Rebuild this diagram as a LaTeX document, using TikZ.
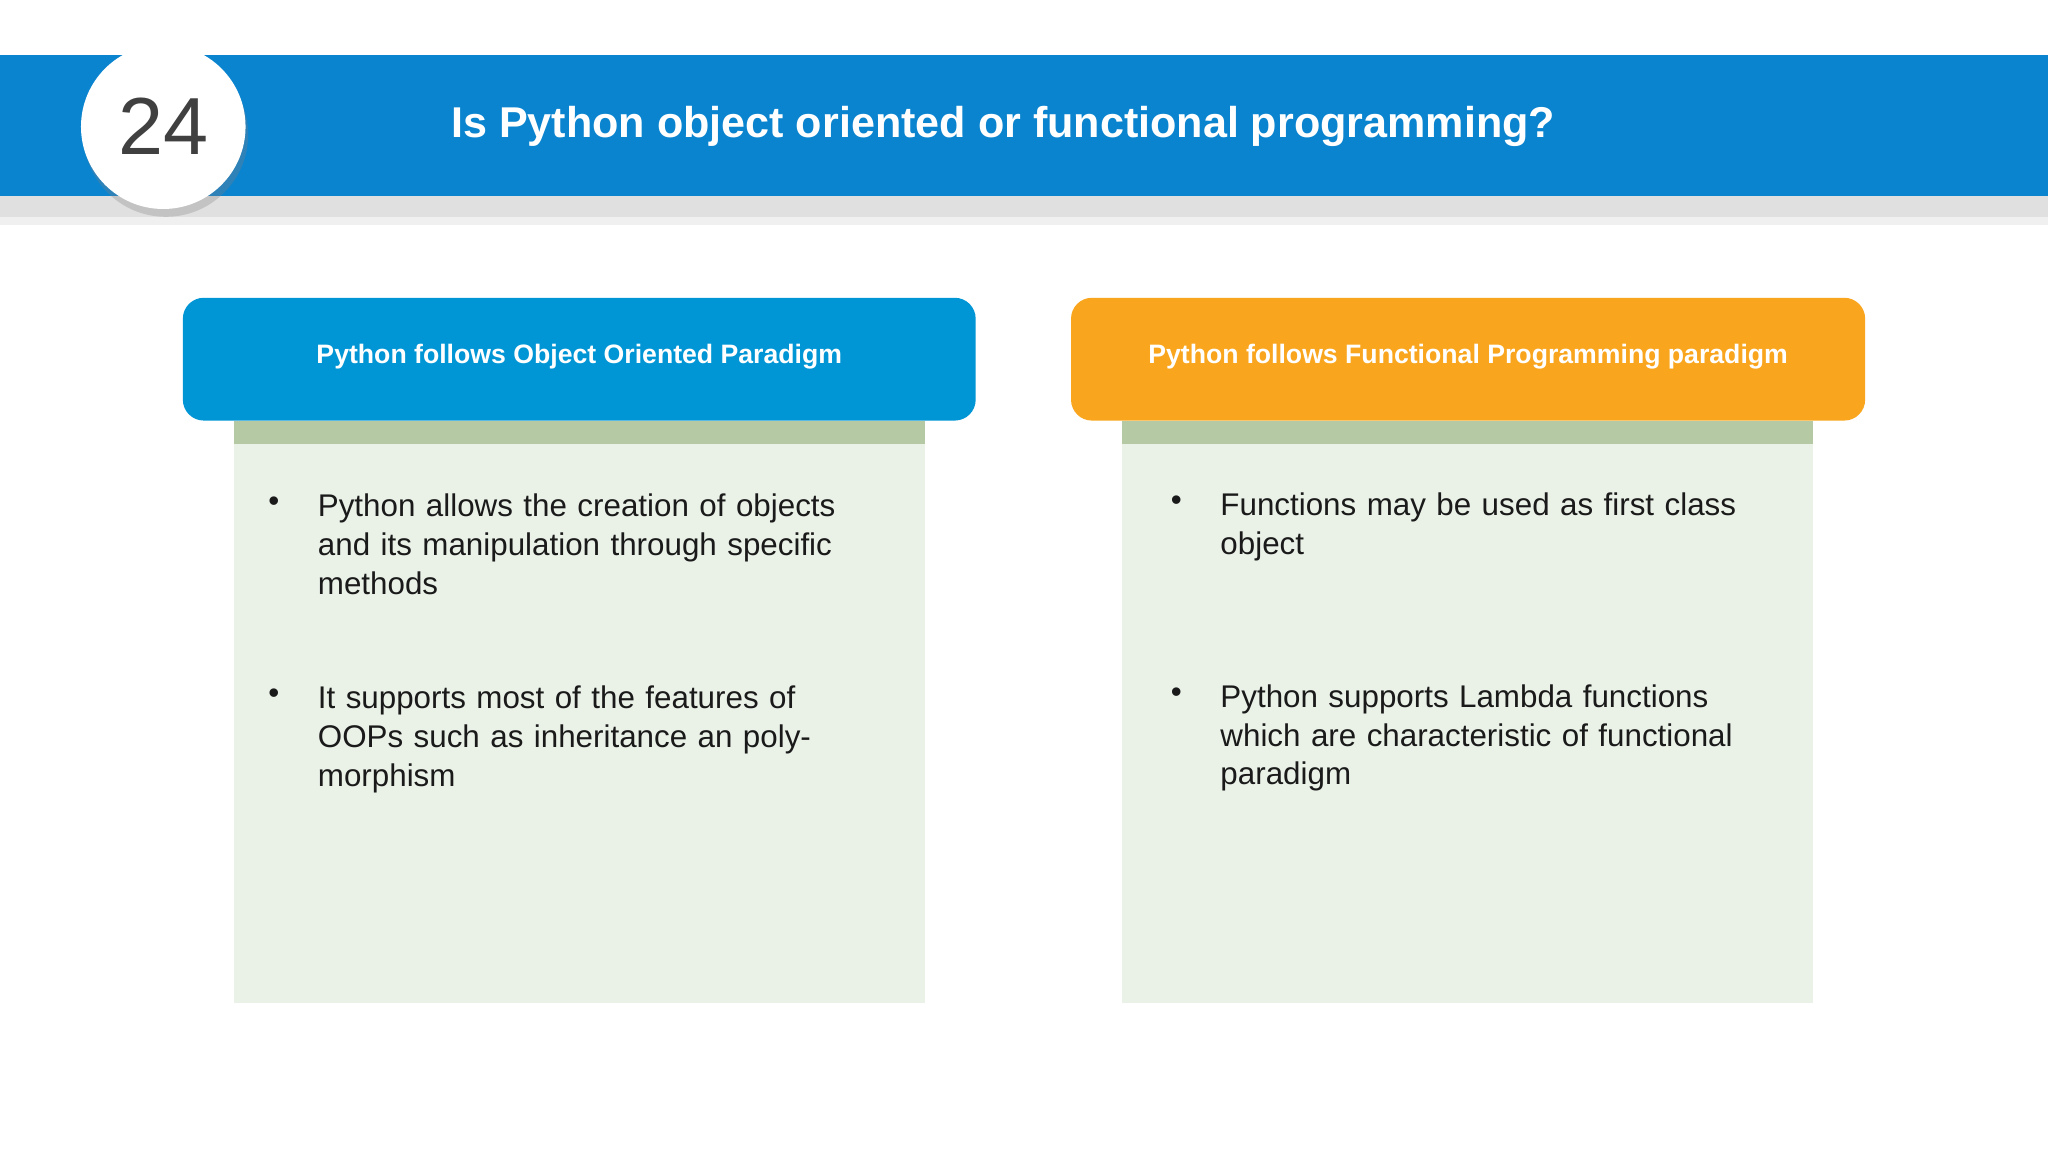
\documentclass[tikz,border=0pt]{standalone}
\usepackage{fontspec}
\setmainfont{Liberation Sans}
\usetikzlibrary{shadows}
\definecolor{banner}{HTML}{0B84CF}
\definecolor{hblue}{HTML}{0096D6}
\definecolor{horange}{HTML}{F9A61E}
\definecolor{bodyg}{HTML}{EAF2E8}
\definecolor{strip}{HTML}{B5C9A5}
\definecolor{txt}{HTML}{1A1A1A}
\begin{document}
\begin{tikzpicture}[x=0.5pt,y=-0.5pt,
  head/.style={rounded corners=8pt,text=white,font=\fontsize{10.2}{12}\selectfont\bfseries},
  bodytxt/.style={anchor=north west,align=left,text width=210pt,inner sep=0pt,text=txt,font=\fontsize{12}{14.8}\selectfont},
  dot/.style={anchor=north west,inner sep=0pt,text=txt,font=\fontsize{12}{14.8}\selectfont}]
\useasboundingbox (0,0) rectangle (1568,882);
\fill[white] (0,0) rectangle (1568,882);
\fill[black!12] (0,150) rectangle (1568,166);
\fill[black!6] (0,166) rectangle (1568,172);
\fill[banner] (0,42) rectangle (1568,150);
\node[circle,fill=white,minimum size=63pt,drop shadow={shadow xshift=1pt,shadow yshift=-3pt,opacity=0.3},font=\fontsize{31}{36}\selectfont,text=black!75] (num) at (125,97) {24};
\node[text=white,font=\fontsize{16.5}{20}\selectfont\bfseries] (title) at (768,97) {Is Python object oriented or functional programming?};
% left
\fill[bodyg] (179,322) rectangle (708,768);
\fill[strip] (179,322) rectangle (708,340);
\fill[head,fill=hblue] (140,228) rectangle (747,322);
\node[head] (lh) at (443.5,273) {Python follows Object Oriented Paradigm};
\node[dot] (lb1) at (205,380) {•};
\node[bodytxt] (lt1) at (243,378) {Python allows the creation of objects and its manipulation through specific methods};
\node[dot] (lb2) at (205,527) {•};
\node[bodytxt] (lt2) at (243,525) {It supports most of the features of OOPs such as inheritance an polymorphism};
% right
\fill[bodyg] (859,322) rectangle (1388,768);
\fill[strip] (859,322) rectangle (1388,340);
\fill[head,fill=horange] (820,228) rectangle (1428,322);
\node[head] (rh) at (1124,273) {Python follows Functional Programming paradigm};
\node[dot] (rb1) at (896,379) {•};
\node[bodytxt] (rt1) at (934,377) {Functions may be used as first class object};
\node[dot] (rb2) at (896,526) {•};
\node[bodytxt] (rt2) at (934,524) {Python supports Lambda functions which are characteristic of functional paradigm};
\end{tikzpicture}
\end{document}
